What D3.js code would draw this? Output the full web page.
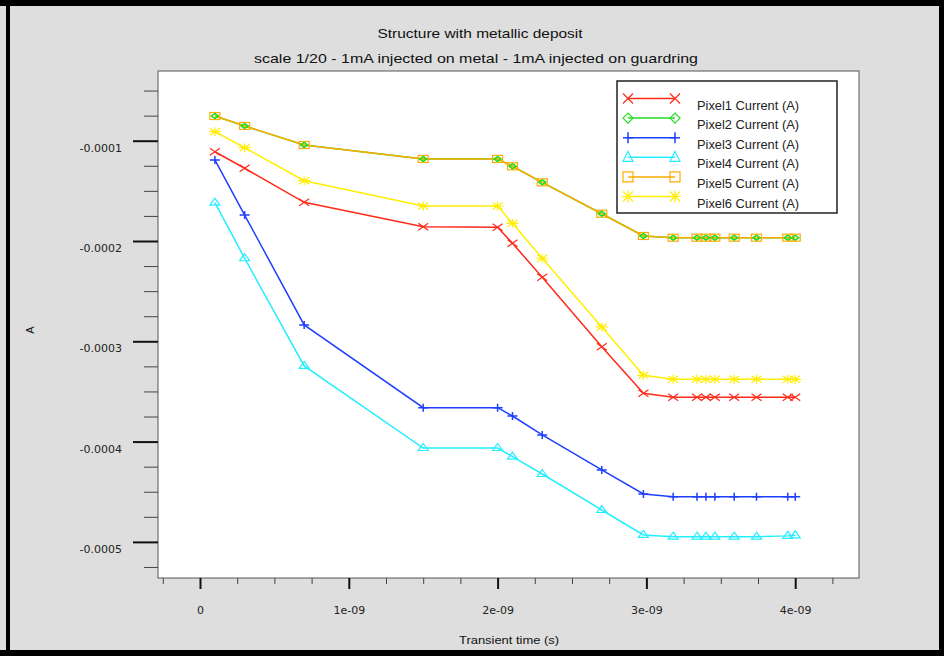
<!DOCTYPE html>
<html><head><meta charset="utf-8">
<script src="https://cdn.jsdelivr.net/npm/d3@7"></script>
<style>html,body{margin:0;padding:0;background:#dedede;}svg{display:block;}</style>
</head><body>
<svg id="chart" width="944" height="656"></svg>
<script>
// ---- data ----
const times = [0.1e-9, 0.3e-9, 0.7e-9, 1.5e-9, 2.0e-9, 2.1e-9, 2.3e-9, 2.7e-9, 2.98e-9, 3.18e-9, 3.34e-9, 3.40e-9, 3.46e-9, 3.59e-9, 3.74e-9, 3.95e-9, 4.0e-9];
const pixel1 = [-1.110e-4, -1.275e-4, -1.614e-4, -1.857e-4, -1.863e-4, -2.023e-4, -2.362e-4, -3.054e-4, -3.518e-4, -3.558e-4, -3.558e-4, -3.558e-4, -3.558e-4, -3.558e-4, -3.558e-4, -3.558e-4, -3.558e-4];
const pixel2 = [-0.754e-4, -0.853e-4, -1.043e-4, -1.182e-4, -1.182e-4, -1.255e-4, -1.415e-4, -1.728e-4, -1.950e-4, -1.967e-4, -1.967e-4, -1.967e-4, -1.967e-4, -1.967e-4, -1.967e-4, -1.967e-4, -1.967e-4];
const pixel3 = [-1.192e-4, -1.741e-4, -2.837e-4, -3.662e-4, -3.662e-4, -3.745e-4, -3.934e-4, -4.283e-4, -4.522e-4, -4.549e-4, -4.549e-4, -4.549e-4, -4.549e-4, -4.549e-4, -4.549e-4, -4.549e-4, -4.549e-4];
const pixel4 = [-1.618e-4, -2.172e-4, -3.246e-4, -4.064e-4, -4.064e-4, -4.150e-4, -4.323e-4, -4.682e-4, -4.931e-4, -4.948e-4, -4.948e-4, -4.948e-4, -4.948e-4, -4.948e-4, -4.948e-4, -4.940e-4, -4.935e-4];
const pixel5 = [-0.754e-4, -0.853e-4, -1.043e-4, -1.182e-4, -1.182e-4, -1.255e-4, -1.415e-4, -1.728e-4, -1.950e-4, -1.967e-4, -1.967e-4, -1.967e-4, -1.967e-4, -1.967e-4, -1.967e-4, -1.967e-4, -1.967e-4];
const pixel6 = [-0.910e-4, -1.070e-4, -1.399e-4, -1.651e-4, -1.651e-4, -1.824e-4, -2.172e-4, -2.857e-4, -3.339e-4, -3.379e-4, -3.379e-4, -3.379e-4, -3.379e-4, -3.379e-4, -3.379e-4, -3.379e-4, -3.379e-4];
const seriesNames = ["Pixel1 Current (A)", "Pixel2 Current (A)", "Pixel3 Current (A)", "Pixel4 Current (A)", "Pixel5 Current (A)", "Pixel6 Current (A)"];
const xTickValues = [0, 1e-9, 2e-9, 3e-9, 4e-9];
const xTickLabels = ["0", "1e-09", "2e-09", "3e-09", "4e-09"];
const yTickValues = [-1e-4, -2e-4, -3e-4, -4e-4, -5e-4];
const yTickLabels = ["-0.0001", "-0.0002", "-0.0003", "-0.0004", "-0.0005"];
const titleText = "Structure with metallic deposit";
const subtitleText = "scale 1/20 - 1mA injected on metal - 1mA injected on guardring";
const xTitle = "Transient time (s)";
const yTitle = "A";

// ---- layout ----
const W = 944, H = 656;
const P = {left: 158, right: 859, top: 71, bottom: 578};
const colors = ["#ff2a1a", "#22dd22", "#1f3fff", "#22eeff", "#ffaa00", "#ffee00"];
const shapes = ["x", "diamond", "plus", "triangle", "square", "star"];
const seriesVals = [pixel1, pixel2, pixel3, pixel4, pixel5, pixel6];

const svg = d3.select("#chart");
svg.append("rect").attr("x", 0).attr("y", 0).attr("width", W).attr("height", H).attr("fill", "#dedede");
// outer black frame
svg.append("rect").attr("x", 6).attr("y", 0).attr("width", 4).attr("height", H).attr("fill", "#000");
svg.append("rect").attr("x", 0).attr("y", 0).attr("width", W).attr("height", 6).attr("fill", "#000");
svg.append("rect").attr("x", 0).attr("y", 650).attr("width", W).attr("height", 6).attr("fill", "#000");
svg.append("rect").attr("x", 939).attr("y", 0).attr("width", 5).attr("height", H).attr("fill", "#000");

const x = d3.scaleLinear().domain([-0.2823e-9, 4.4288e-9]).range([P.left, P.right]);
const y = d3.scaleLinear().domain([-0.3051e-4, -5.360e-4]).range([P.top, P.bottom]);

svg.append("rect").attr("x", P.left).attr("y", P.top).attr("width", P.right - P.left).attr("height", P.bottom - P.top)
  .attr("fill", "#fff").attr("stroke", "#555").attr("stroke-width", 1);

// titles
svg.append("text").attr("x", 480).attr("y", 38).attr("text-anchor", "middle")
  .attr("font-family", "Liberation Sans, Arial, sans-serif").attr("font-size", 13).attr("fill", "#111")
  .attr("textLength", 205).attr("lengthAdjust", "spacingAndGlyphs").text(titleText);
svg.append("text").attr("x", 476).attr("y", 63).attr("text-anchor", "middle")
  .attr("font-family", "Liberation Sans, Arial, sans-serif").attr("font-size", 13).attr("fill", "#111")
  .attr("textLength", 444).attr("lengthAdjust", "spacingAndGlyphs").text(subtitleText);

// axes ticks
const yMinor = d3.range(-0.5e-4, -5.26e-4, -0.25e-4).filter(v => Math.abs((v / 1e-4) - Math.round(v / 1e-4)) > 1e-6);
const xMinor = d3.range(-0.25e-9, 4.26e-9, 0.25e-9).filter(v => Math.abs((v / 1e-9) - Math.round(v / 1e-9)) > 1e-6);

const yAxisMinor = d3.axisLeft(y).tickValues(yMinor).tickSize(14).tickFormat("");
const yAxisMajor = d3.axisLeft(y).tickValues(yTickValues).tickSize(25).tickFormat((d, i) => yTickLabels[i]).tickPadding(11);
const xAxisMinor = d3.axisBottom(x).tickValues(xMinor).tickSize(6).tickFormat("");
const xAxisMajor = d3.axisBottom(x).tickValues(xTickValues).tickSize(11).tickFormat((d, i) => xTickLabels[i]).tickPadding(17);

function styleAxis(g, w, col) {
  g.select(".domain").remove();
  g.selectAll(".tick line").attr("stroke", col).attr("stroke-width", w);
  g.selectAll("text").attr("font-family", "DejaVu Sans, sans-serif").attr("font-size", 11).attr("fill", "#222");
}
svg.append("g").attr("transform", `translate(${P.left},0)`).call(yAxisMinor).call(g => styleAxis(g, 1, "#444"));
const gy = svg.append("g").attr("transform", `translate(${P.left},0)`).call(yAxisMajor).call(g => styleAxis(g, 2, "#111"));
gy.selectAll("text").attr("dy", "0.95em");
svg.append("g").attr("transform", `translate(0,${P.bottom})`).call(xAxisMinor).call(g => styleAxis(g, 1, "#444"));
const gx = svg.append("g").attr("transform", `translate(0,${P.bottom})`).call(xAxisMajor).call(g => styleAxis(g, 2, "#111"));

// axis titles
svg.append("text").attr("x", 509).attr("y", 644).attr("text-anchor", "middle")
  .attr("font-family", "Liberation Sans, Arial, sans-serif").attr("font-size", 11.5).attr("fill", "#111")
  .attr("textLength", 100).attr("lengthAdjust", "spacingAndGlyphs").text(xTitle);
svg.append("text").attr("transform", "translate(34,330) rotate(-90)").attr("text-anchor", "middle")
  .attr("font-family", "Liberation Sans, Arial, sans-serif").attr("font-size", 11).attr("fill", "#111").text(yTitle);

// markers
function marker(g, shape, cx, cy, col, big) {
  const hw = big ? 5 : 5, hh = big ? 5 : 3.5;
  const s = g.append("g").attr("stroke", col).attr("fill", "none").attr("stroke-width", 1.2);
  if (shape === "x") {
    s.append("path").attr("d", `M${cx - hw},${cy - hh}L${cx + hw},${cy + hh}M${cx - hw},${cy + hh}L${cx + hw},${cy - hh}`);
  } else if (shape === "plus") {
    s.append("path").attr("d", `M${cx},${cy - hh - 0.5}L${cx},${cy + hh + 0.5}M${cx - hw},${cy}L${cx + hw},${cy}`).attr("stroke-width", 1.5);
  } else if (shape === "triangle") {
    s.append("path").attr("d", `M${cx},${cy - hh - 1}L${cx + hw},${cy + hh - 1}L${cx - hw},${cy + hh - 1}Z`);
  } else if (shape === "square") {
    s.append("rect").attr("x", cx - hw).attr("y", cy - hh).attr("width", 2 * hw).attr("height", 2 * hh);
  } else if (shape === "diamond") {
    const dw = big ? 5 : 3.5, dh = big ? 5 : 2.5;
    s.append("path").attr("d", `M${cx - dw},${cy}L${cx},${cy - dh}L${cx + dw},${cy}L${cx},${cy + dh}Z`);
  } else if (shape === "star") {
    s.append("path").attr("d", `M${cx - hw},${cy - hh}L${cx + hw},${cy + hh}M${cx - hw},${cy + hh}L${cx + hw},${cy - hh}M${cx},${cy - hh - 1}L${cx},${cy + hh + 1}M${cx - hw - 1},${cy}L${cx + hw + 1},${cy}`);
  }
}

const line = d3.line().x(d => x(d[0])).y(d => y(d[1]));
const drawOrder = [0, 2, 3, 5, 1, 4];
const plotG = svg.append("g");
drawOrder.forEach(i => {
  const pts = times.map((t, j) => [t, seriesVals[i][j]]);
  plotG.append("path").datum(pts).attr("d", line).attr("fill", "none").attr("stroke", colors[i]).attr("stroke-width", 1.5);
});
drawOrder.forEach(i => {
  const pts = times.map((t, j) => [t, seriesVals[i][j]]);
  pts.forEach(p => marker(plotG, shapes[i], x(p[0]), y(p[1]), colors[i], false));
});
// diamonds of Pixel2 drawn inside Pixel5 squares
times.forEach((t, j) => marker(plotG, "diamond", x(t), y(pixel2[j]), colors[1], false));

// legend
const L = {x: 617, y: 81, w: 220, h: 132};
svg.append("rect").attr("x", L.x).attr("y", L.y).attr("width", L.w).attr("height", L.h)
  .attr("fill", "#fff").attr("stroke", "#222").attr("stroke-width", 1.5);
seriesNames.forEach((name, i) => {
  const ly = 98.5 + i * 19.6;
  svg.append("line").attr("x1", 628).attr("x2", 675).attr("y1", ly).attr("y2", ly).attr("stroke", colors[i]).attr("stroke-width", 1.5);
  marker(svg, shapes[i], 628, ly, colors[i], true);
  marker(svg, shapes[i], 675, ly, colors[i], true);
  svg.append("text").attr("x", 697).attr("y", ly + 11).attr("font-family", "Liberation Sans, Arial, sans-serif")
    .attr("font-size", 12).attr("fill", "#222").attr("textLength", 102).attr("lengthAdjust", "spacingAndGlyphs").text(name);
});
</script>
</body></html>
